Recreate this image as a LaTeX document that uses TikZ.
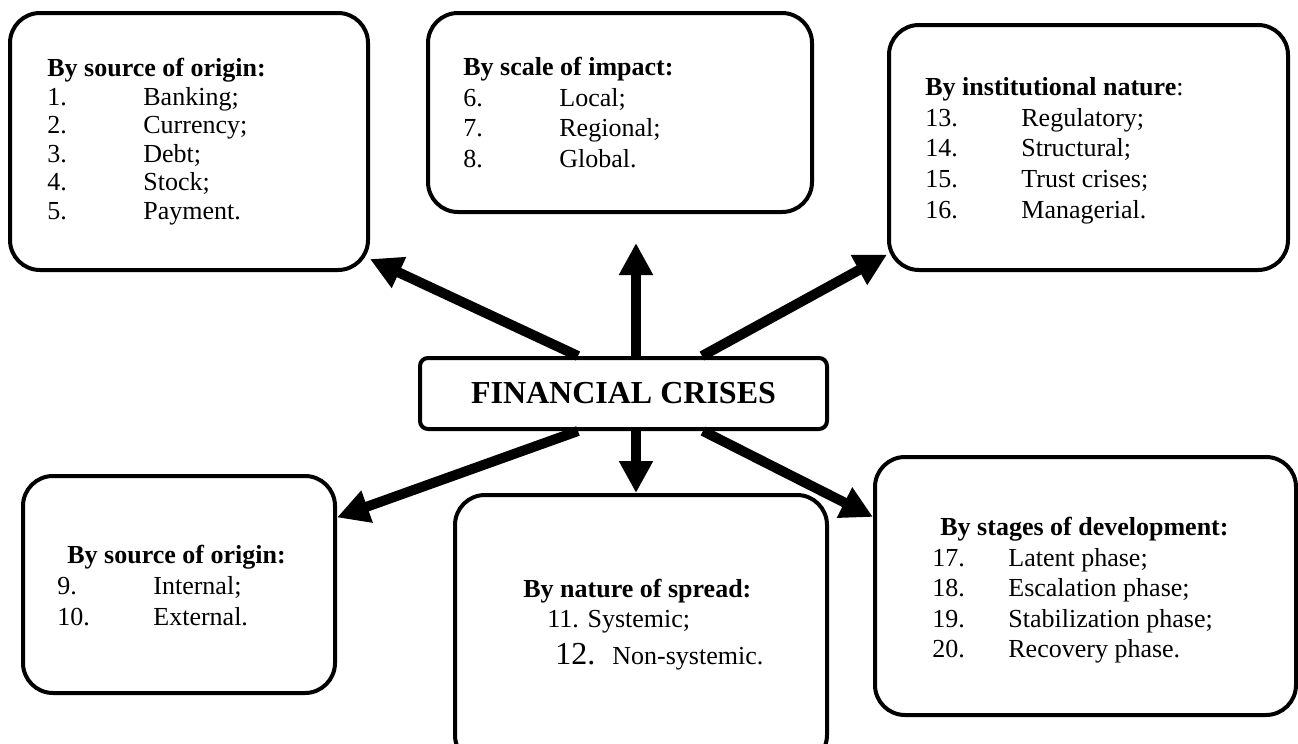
\documentclass[tikz,border=0pt]{standalone}
\usepackage{fontspec}
\setmainfont{Liberation Serif}
\usepackage{tikz}
\usetikzlibrary{arrows.meta,positioning}

\newcommand{\crisisitem}[3][48pt]{\makebox[#1][l]{#2}#3}

\begin{document}
\begin{tikzpicture}[x=0.5pt,y=-0.5pt,
    crisisbox/.style={draw, line width=2pt, rounded corners=15pt, inner sep=0pt},
    crisistext/.style={anchor=north west, align=left, inner sep=0pt},
    bigarrow/.style={line width=5pt, -{Triangle[length=16pt,width=16pt]}}]
            \clip (0,0) rectangle (1298,744);
            \node [draw, line width=2pt, rounded corners=4pt, minimum width=203.5pt, minimum height=35.5pt, font=\fontsize{16}{18}\selectfont\bfseries] (crises) at (623.5,393.5) {FINANCIAL CRISES};
            \node [crisisbox, minimum width=179pt, minimum height=128.5pt] (origin) at (189,141.5) {};
            \node [crisisbox, minimum width=192pt, minimum height=99.5pt] (scale) at (620,112.5) {};
            \node [crisisbox, minimum width=199.5pt, minimum height=122.5pt] (institution) at (1088.5,147.5) {};
            \node [crisisbox, minimum width=156pt, minimum height=108.5pt] (source) at (179,584.5) {};
            \node [crisisbox, minimum width=186pt, minimum height=135pt] (spread) at (641,630) {};
            \node [crisisbox, minimum width=210.5pt, minimum height=129pt] (stages) at (1085.5,586) {};
            \node [crisistext, font=\fontsize{13}{14.25}\selectfont] (origintext) at (47,58) {\textbf{By source of origin:}\\
                \crisisitem{1.}{Banking;}\\ \crisisitem{2.}{Currency;}\\ \crisisitem{3.}{Debt;}\\
                \crisisitem{4.}{Stock;}\\ \crisisitem{5.}{Payment.}};
            \node [crisistext, font=\fontsize{13}{15.3}\selectfont] (scaletext) at (463,57) {\textbf{By scale of impact:}\\
                \crisisitem{6.}{Local;}\\ \crisisitem{7.}{Regional;}\\ \crisisitem{8.}{Global.}};
            \node [crisistext, font=\fontsize{13}{15.35}\selectfont] (institutiontext) at (925,77) {\textbf{By institutional nature}:\\
                \crisisitem{13.}{Regulatory;}\\ \crisisitem{14.}{Structural;}\\ \crisisitem{15.}{Trust crises;}\\
                \crisisitem{16.}{Managerial.}};
            \node [crisistext, font=\fontsize{13}{15.5}\selectfont] (sourcetext) at (57,545) {\hspace*{5pt}\textbf{By source of origin:}\\
                \crisisitem{9.}{Internal;}\\ \crisisitem{10.}{External.}};
            \node [crisistext, font=\fontsize{13}{15}\selectfont] (spreadtext) at (523,579) {\textbf{By nature of spread:}\\
                \hspace*{12pt}11. Systemic;\\[3.5pt]
                \hspace*{16pt}{\fontsize{16}{16}\selectfont 12.}\hspace{8.5pt}Non-systemic.};
            \node [crisistext, font=\fontsize{13}{15.25}\selectfont] (stagestext) at (932,517) {\hspace*{4pt}\textbf{By stages of development:}\\
                \crisisitem[38pt]{17.}{Latent phase;}\\ \crisisitem[38pt]{18.}{Escalation phase;}\\
                \crisisitem[38pt]{19.}{Stabilization phase;}\\ \crisisitem[38pt]{20.}{Recovery phase.}};
            \draw [bigarrow] ([xshift=-22.75pt]crises.north) -- (origin.-33);
            \draw [bigarrow, shorten >=14.5pt] ([xshift=6.25pt]crises.north) -- ([xshift=8pt]scale.south);
            \draw [bigarrow] ([xshift=39.25pt]crises.north) -- (institution.208);
            \draw [bigarrow] ([xshift=-22.75pt]crises.south) -- (source.23);
            \draw [bigarrow] ([xshift=6.25pt]crises.south) -- ([xshift=-2.5pt]spread.north);
            \draw [bigarrow] ([xshift=39.75pt]crises.south) -- (stages.162);
\end{tikzpicture}
\end{document}
